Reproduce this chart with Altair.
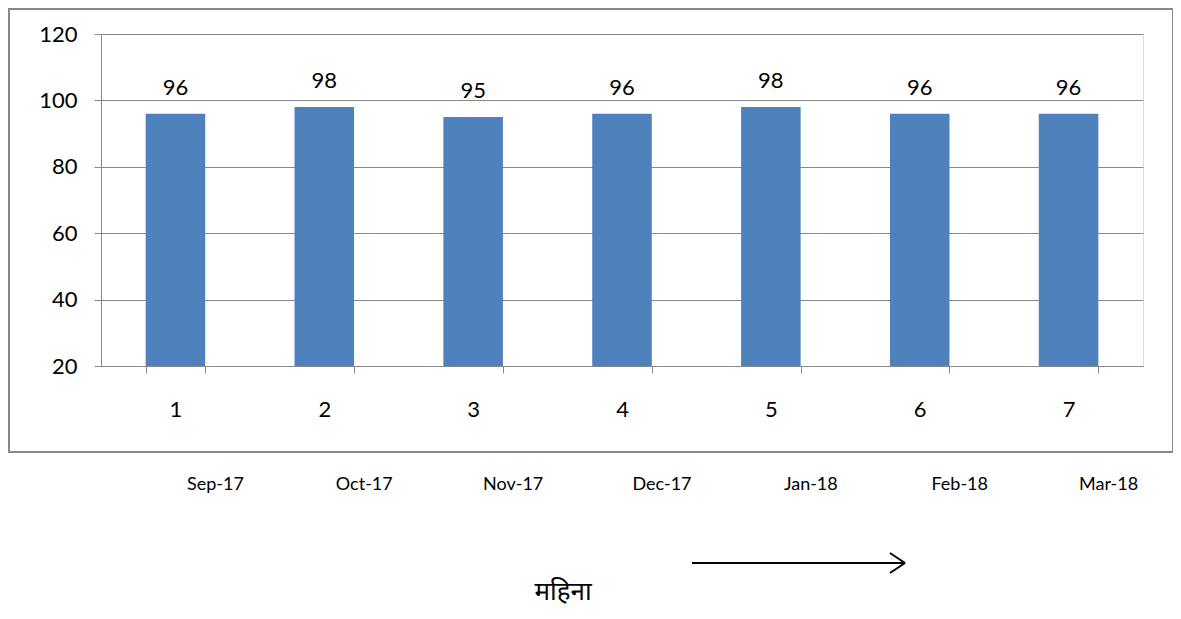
import altair as alt
import pandas as pd

categories = ["1", "2", "3", "4", "5", "6", "7"]
values = [96, 98, 95, 96, 98, 96, 96]
months = ["Sep-17", "Oct-17", "Nov-17", "Dec-17", "Jan-18", "Feb-18", "Mar-18"]
y_ticks = [20, 40, 60, 80, 100, 120]
x_title = "महिना"

df = pd.DataFrame({"cat": categories, "value": values, "month": months})
one = pd.DataFrame({"a": [0]})

W, H = 1042, 332
FONT = "Lato"

x_enc = alt.X(
    "cat:N", sort=categories,
    scale=alt.Scale(paddingInner=0.6, paddingOuter=0.3),
    axis=alt.Axis(title=None, labelAngle=0, tickBand="extent", labelFontSize=22,
                  labelPadding=26, tickSize=7, domainColor="#888888", tickColor="#888888",
                  labelColor="#000000", labelFont=FONT, grid=False),
)
y_enc = alt.Y(
    "value:Q",
    scale=alt.Scale(domain=[20, 120], nice=False, zero=False),
    axis=alt.Axis(values=y_ticks, title=None, grid=True, gridColor="#888888",
                  domainColor="#888888", tickColor="#888888", tickSize=7,
                  labelFontSize=22, labelPadding=17, labelFont=FONT, labelColor="#000000"),
)

bars = alt.Chart(df).mark_bar(color="#4F81BD").encode(x=x_enc, y=y_enc, y2=alt.datum(20))

value_labels = alt.Chart(df).mark_text(
    fontSize=22, font=FONT, color="#000000", dy=-19, baseline="alphabetic", align="center"
).encode(x=alt.X("cat:N", sort=categories), y=alt.Y("value:Q"), text=alt.Text("value:Q"))

month_labels = alt.Chart(df).mark_text(
    fontSize=18, font=FONT, color="#000000", dx=40, baseline="middle", align="center"
).encode(x=alt.X("cat:N", sort=categories), y=alt.value(451), text="month:N")

border = alt.Chart(one).mark_rect(
    fillOpacity=0, stroke="#888888", strokeWidth=2
).encode(x=alt.value(-92), x2=alt.value(1072), y=alt.value(-25), y2=alt.value(418))

arrow_line = alt.Chart(one).mark_rule(color="#000000", strokeWidth=2).encode(
    x=alt.value(591), x2=alt.value(804), y=alt.value(529), y2=alt.value(529))
arrow_h1 = alt.Chart(one).mark_rule(color="#000000", strokeWidth=2).encode(
    x=alt.value(789), x2=alt.value(804), y=alt.value(519), y2=alt.value(529))
arrow_h2 = alt.Chart(one).mark_rule(color="#000000", strokeWidth=2).encode(
    x=alt.value(789), x2=alt.value(804), y=alt.value(539), y2=alt.value(529))

title_text = alt.Chart(one).mark_text(
    fontSize=26, font="Noto Sans", fontWeight="normal", color="#000000",
    baseline="middle", align="center"
).encode(x=alt.value(462), y=alt.value(558), text=alt.value(x_title))

chart = alt.layer(
    border, bars, value_labels, month_labels, arrow_line, arrow_h1, arrow_h2, title_text
).properties(
    width=W, height=H,
    autosize=alt.AutoSizeParams(type="none"),
    padding={"left": 93, "top": 26, "right": 30, "bottom": 241},
).configure_view(stroke=None).configure(background="#ffffff")

chart.save("out.html", embed_options={"renderer": "svg", "actions": False})
